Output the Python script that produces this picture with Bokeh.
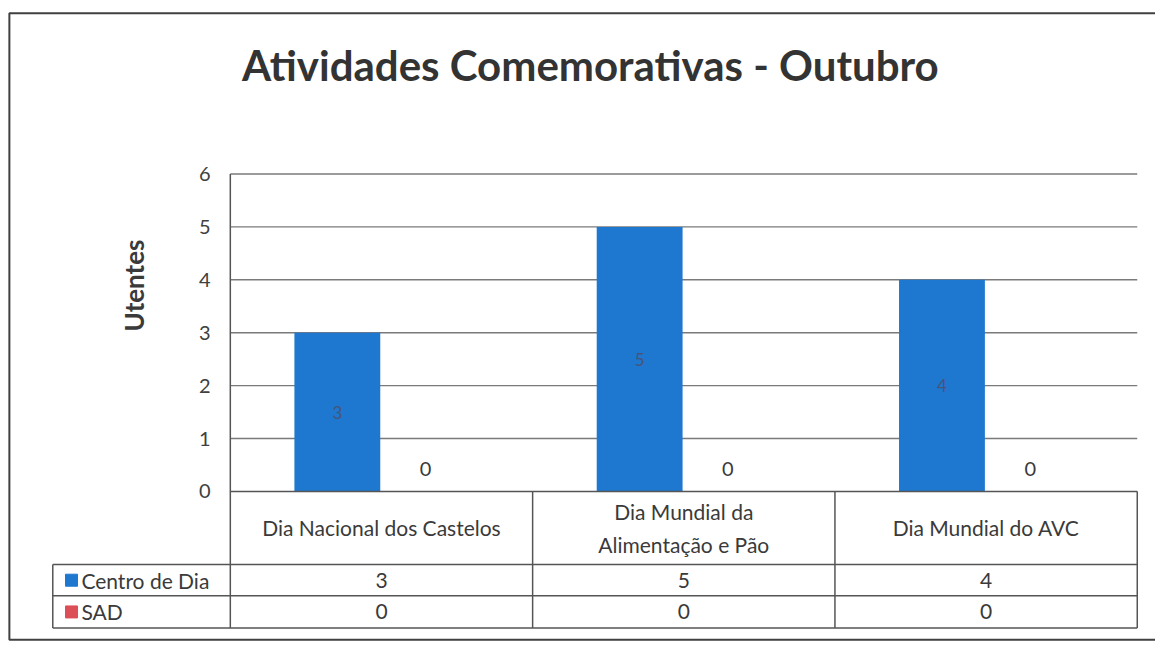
import math
from bokeh.plotting import figure
from bokeh.models import Range1d, ColumnDataSource
from bokeh.core.properties import value
from bokeh.embed import file_html
from bokeh.resources import INLINE

# ---- data ----
title_text = "Atividades Comemorativas - Outubro"
y_label = "Utentes"
categories = ["Dia Nacional dos Castelos", "Dia Mundial da\nAlimentação e Pão", "Dia Mundial do AVC"]
series_names = ["Centro de Dia", "SAD"]
centro_dia = [3, 5, 4]
sad = [0, 0, 0]
y_ticks = [0, 1, 2, 3, 4, 5, 6]

BLUE = "#1f78cf"
RED = "#dc4f57"
TXT = "#3a3a3a"
LINE = "#555555"
GRID = "#7a7a7a"
FONT = value("Lato")

W, H = 1155, 649
REF_W, REF_H = 1171, 665
# layout geometry, in reference-image pixels
X0_REF, UNIT_X = 233.0, 306.5
Y0_REF, UNIT_Y = 503.0, 54.2

def X(px):
    return (px - X0_REF) / UNIT_X

def Y(py):
    return (Y0_REF - py) / UNIT_Y

p = figure(width=W, height=H, output_backend="svg", toolbar_location=None,
           x_range=Range1d(X(0), X(REF_W)), y_range=Range1d(Y(REF_H), Y(0)),
           x_axis_location=None, y_axis_location=None, min_border=0,
           background_fill_color="white", border_fill_color="white")
p.xgrid.visible = False
p.ygrid.visible = False
p.outline_line_color = None

n = len(categories)
top_grid = max(y_ticks)

# outer chart border
p.quad(left=[X(9)], right=[X(REF_W + 20)], top=[Y(13)], bottom=[Y(655)],
       fill_color=None, line_color="#404040", line_width=2)

# horizontal gridlines in plot area
gt = y_ticks[1:]
p.segment(x0=[0] * len(gt), y0=gt, x1=[n] * len(gt), y1=gt,
          line_color=GRID, line_width=1.4)

# bars
bw = 0.284
off = 0.146
src = ColumnDataSource(dict(
    xc=[i + 0.5 - off for i in range(n)],
    xs=[i + 0.5 + off for i in range(n)],
    c=centro_dia, s=sad,
    cl=[c / 2 for c in centro_dia],
    sl=[s + 0.42 for s in sad],
    ct=[str(c) for c in centro_dia], st=[str(s) for s in sad],
))
p.vbar(x="xc", top="c", width=bw, bottom=0, source=src, fill_color=BLUE, line_color=None)
p.vbar(x="xs", top="s", width=bw, bottom=0, source=src, fill_color=RED, line_color=None)
p.text(x="xc", y="cl", text="ct", source=src, text_align="center", text_baseline="middle",
       text_font=FONT, text_font_size="17px", text_color="#45557a")
p.text(x="xs", y="sl", text="st", source=src, text_align="center", text_baseline="middle",
       text_font=FONT, text_font_size="20px", text_color=TXT)

# y tick labels
p.text(x=[X(213)] * len(y_ticks), y=y_ticks, text=[str(t) for t in y_ticks],
       text_align="right", text_baseline="middle", text_font=FONT,
       text_font_size="20px", text_color="#404040")

# axis label
p.text(x=[X(135)], y=[Y(292)], text=[y_label], angle=math.pi / 2,
       text_align="center", text_baseline="middle", text_font=FONT,
       text_font_size="26px", text_font_style="bold", text_color=TXT)

# title
p.text(x=[X(598)], y=[Y(66)], text=[title_text], text_align="center",
       text_baseline="middle", text_font=FONT, text_font_size="42px",
       text_font_style="bold", text_color="#333333")

# data table
hdr_bot = Y(578)
row1_bot = Y(610)
row2_bot = Y(643)
left_col = X(53)

# vertical lines
p.segment(x0=[0], y0=[top_grid], x1=[0], y1=[row2_bot], line_color=LINE, line_width=1.5)
p.segment(x0=list(range(1, n + 1)), y0=[0] * n,
          x1=list(range(1, n + 1)), y1=[row2_bot] * n, line_color=LINE, line_width=1.5)
p.segment(x0=[left_col], y0=[hdr_bot], x1=[left_col], y1=[row2_bot], line_color=LINE, line_width=1.5)
# horizontal lines
p.segment(x0=[0], y0=[0], x1=[n], y1=[0], line_color=LINE, line_width=1.5)
p.segment(x0=[left_col] * 3, y0=[hdr_bot, row1_bot, row2_bot],
          x1=[n] * 3, y1=[hdr_bot, row1_bot, row2_bot], line_color=LINE, line_width=1.5)

# header labels
p.text(x=[i + 0.5 for i in range(n)], y=[hdr_bot / 2] * n, text=categories,
       text_align="center", text_baseline="middle", text_font=FONT,
       text_font_size="21px", text_color=TXT, text_line_height=1.3)

# rows
r1y = (hdr_bot + row1_bot) / 2
r2y = (row1_bot + row2_bot) / 2
p.text(x=[i + 0.5 for i in range(n)], y=[r1y] * n, text=[str(v) for v in centro_dia],
       text_align="center", text_baseline="middle", text_font=FONT,
       text_font_size="21px", text_color=TXT)
p.text(x=[i + 0.5 for i in range(n)], y=[r2y] * n, text=[str(v) for v in sad],
       text_align="center", text_baseline="middle", text_font=FONT,
       text_font_size="21px", text_color=TXT)

# legend keys + series names
p.scatter(x=[X(72)] * 2, y=[r1y, r2y], marker="square", size=12,
          fill_color=[BLUE, RED], line_color=[BLUE, RED])
p.text(x=[X(82)] * 2, y=[r1y, r2y], text=series_names, text_align="left",
       text_baseline="middle", text_font=FONT, text_font_size="21px", text_color=TXT)

open("out.html", "w").write(file_html(p, INLINE))
